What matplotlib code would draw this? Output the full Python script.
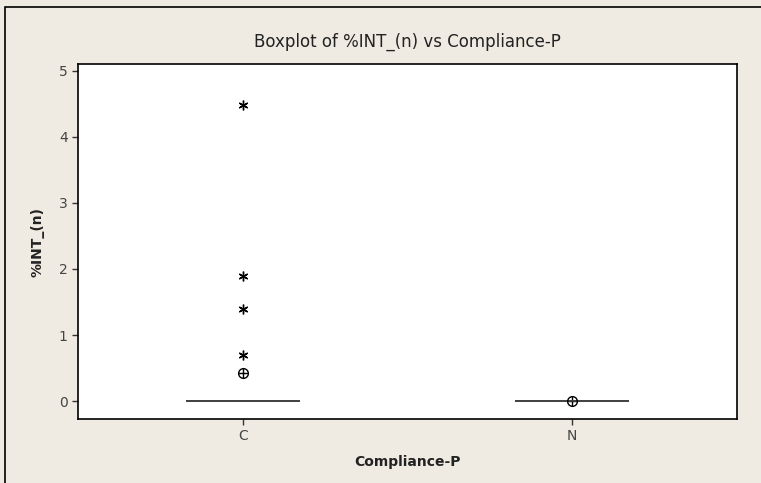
import numpy as np
import matplotlib.pyplot as plt
from matplotlib.patches import Rectangle

# Data
groups = ["C", "N"]
medians = [0.0, 0.0]
q1 = [0.0, 0.0]
q3 = [0.0, 0.0]
whisk_lo = [0.0, 0.0]
whisk_hi = [0.0, 0.0]
means = [0.43, 0.0]
outliers_C = [4.48, 1.9, 1.4, 0.7]
outliers_N = []

bg = "#f0ebe2"
txt = "#222222"

fig = plt.figure(figsize=(7.61, 4.83), dpi=100)
fig.patch.set_facecolor(bg)

# outer frame (only left/top visible in the crop)
fig.patches.append(Rectangle((5 / 761, -0.1), 1.2, 1.1 - 7 / 483,
                             transform=fig.transFigure, fill=False,
                             edgecolor="black", linewidth=1.2))

ax = fig.add_axes([78 / 761, 1 - 419 / 483, 659 / 761, (419 - 64) / 483])
ax.set_facecolor("white")

stats = []
fliers = [outliers_C, outliers_N]
for i, g in enumerate(groups):
    stats.append(dict(label=g, med=medians[i], q1=q1[i], q3=q3[i],
                      whislo=whisk_lo[i], whishi=whisk_hi[i],
                      fliers=fliers[i], mean=means[i]))

ax.bxp(stats, positions=[1, 2], widths=0.34, showcaps=False, showmeans=True,
       boxprops=dict(color="#444444", linewidth=1.2),
       medianprops=dict(color="#444444", linewidth=1.2),
       whiskerprops=dict(color="#444444", linewidth=1.2),
       flierprops=dict(marker=(6, 2, 0), markersize=7, markeredgecolor="black",
                       markeredgewidth=1.0, linestyle="none"),
       meanprops=dict(marker="o", markersize=7, markerfacecolor="none",
                      markeredgecolor="black", markeredgewidth=1.0))
# cross inside the mean circle
ax.plot([1, 2], means, linestyle="none", marker="+", markersize=7,
        markeredgecolor="black", markeredgewidth=1.0)

ax.set_xlim(0.5, 2.5)
ax.set_ylim(-0.27, 5.1)
ax.set_yticks([0, 1, 2, 3, 4, 5])
ax.set_xticks([1, 2])
ax.set_xticklabels(groups)

for s in ax.spines.values():
    s.set_color("black")
    s.set_linewidth(1.2)
ax.tick_params(direction="out", length=4, width=1, colors="#333333",
               labelsize=10, labelcolor="#444444")

ax.set_xlabel("Compliance-P", fontsize=10, fontweight="bold", color=txt, labelpad=8)
ax.set_ylabel("%INT_(n)", fontsize=10, fontweight="bold", color=txt, labelpad=10)
fig.text(0.5 * (78 + 737) / 761, 1 - 42 / 483, "Boxplot of %INT_(n) vs Compliance-P",
         ha="center", va="center", fontsize=12, color=txt)

fig.savefig("out.png", dpi=100, facecolor=bg)
